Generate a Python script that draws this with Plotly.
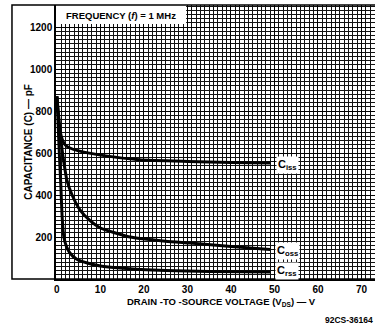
import plotly.graph_objects as go

# Data (VDS in volts, capacitance in pF)
ciss_v = [0, 0.3, 0.6, 1.0, 1.5, 2.0, 3.0, 5.0, 10.0, 19.0, 30.0, 40.0, 49.0]
ciss_c = [870, 790, 725, 680, 652, 637, 624, 610, 590, 568, 560, 555, 552]

coss_v = [0, 0.3, 0.6, 1.0, 1.5, 2.3, 3.5, 5.3, 7.5, 10.0, 16.8, 25.0, 30.6, 40.0, 49.0]
coss_c = [870, 800, 730, 650, 570, 471, 400, 329, 280, 243, 200, 180, 171, 155, 140]

crss_v = [0, 0.2, 0.4, 0.6, 0.9, 1.2, 1.6, 2.2, 3.0, 4.5, 7.0, 10.0, 14.5, 25.0, 35.0, 49.0]
crss_c = [870, 780, 680, 580, 450, 300, 200, 155, 124, 95, 76, 62, 52, 40, 36, 33]

x_ticks = [0, 10, 20, 30, 40, 50, 60, 70]
y_ticks = [200, 400, 600, 800, 1000, 1200]

labels = ["C<sub>iss</sub>", "C<sub>oss</sub>", "C<sub>rss</sub>"]
label_y = [543, 133, 38]

FONT = "Arial"
fig = go.Figure()
for xs, ys in [(ciss_v, ciss_c), (coss_v, coss_c), (crss_v, crss_c)]:
    fig.add_trace(go.Scatter(x=xs, y=ys, mode="lines",
                             line=dict(color="black", width=3, shape="spline", smoothing=0.5),
                             showlegend=False, hoverinfo="skip"))

for t, yv in zip(labels, label_y):
    fig.add_annotation(x=52.9, y=yv, text=t, showarrow=False, bgcolor="white",
                       font=dict(family=FONT, size=11, color="black", weight="bold"),
                       borderpad=1)

# white label area for frequency note
fig.add_shape(type="rect", xref="x", yref="y", x0=-0.2, x1=29.7, y0=1215, y1=1305,
              fillcolor="white", line=dict(width=0), layer="above")
fig.add_annotation(xref="paper", yref="paper", x=0.025, y=0.99, xanchor="left", yanchor="top",
                   text="FREQUENCY (<i>f</i>) = 1 MHz", showarrow=False,
                   font=dict(family=FONT, size=9.5, color="black", weight="bold"))

# outer frame
fig.add_shape(type="rect", xref="paper", yref="paper", x0=-0.138, x1=1.02, y0=0, y1=1,
              line=dict(color="black", width=1.5), layer="above")

fig.add_annotation(xref="paper", yref="paper", x=-0.112, y=0.5, textangle=-90,
                   text="CAPACITANCE (C) — pF", showarrow=False,
                   font=dict(family=FONT, size=10, color="black", weight="bold"))
fig.add_annotation(xref="paper", yref="paper", x=0.52, y=-0.085, yanchor="middle",
                   text="DRAIN -TO -SOURCE VOLTAGE (V<sub>DS</sub>) — V", showarrow=False,
                   font=dict(family=FONT, size=9.5, color="black", weight="bold"))
fig.add_annotation(xref="paper", yref="paper", x=1.0, y=-0.148, xanchor="right", yanchor="middle",
                   text="92CS-36164", showarrow=False,
                   font=dict(family=FONT, size=8.5, color="black", weight="bold"))

grid = "#111111"
fig.update_xaxes(range=[-0.2, 73.1], tickvals=x_ticks, showgrid=True, gridcolor="#000000",
                 gridwidth=1.3, zeroline=False, showline=True, linecolor="black", linewidth=1.5,
                 ticks="", tickfont=dict(family=FONT, size=10, color="black", weight="bold"),
                 minor=dict(tickmode="linear", tick0=0, dtick=1, showgrid=True,
                            gridcolor=grid, gridwidth=1))
fig.update_yaxes(range=[0, 1305], tickvals=y_ticks, showgrid=True, gridcolor="#000000",
                 gridwidth=1.3, zeroline=False, showline=True, linecolor="black", linewidth=1.5,
                 ticks="", tickfont=dict(family=FONT, size=10, color="black", weight="bold"),
                 minor=dict(tickmode="linear", tick0=0, dtick=20, showgrid=True,
                            gridcolor=grid, gridwidth=1))

fig.update_layout(width=375, height=327, margin=dict(l=56, r=0, t=5, b=48),
                  plot_bgcolor="white", paper_bgcolor="white")
fig.write_html("out.html")
